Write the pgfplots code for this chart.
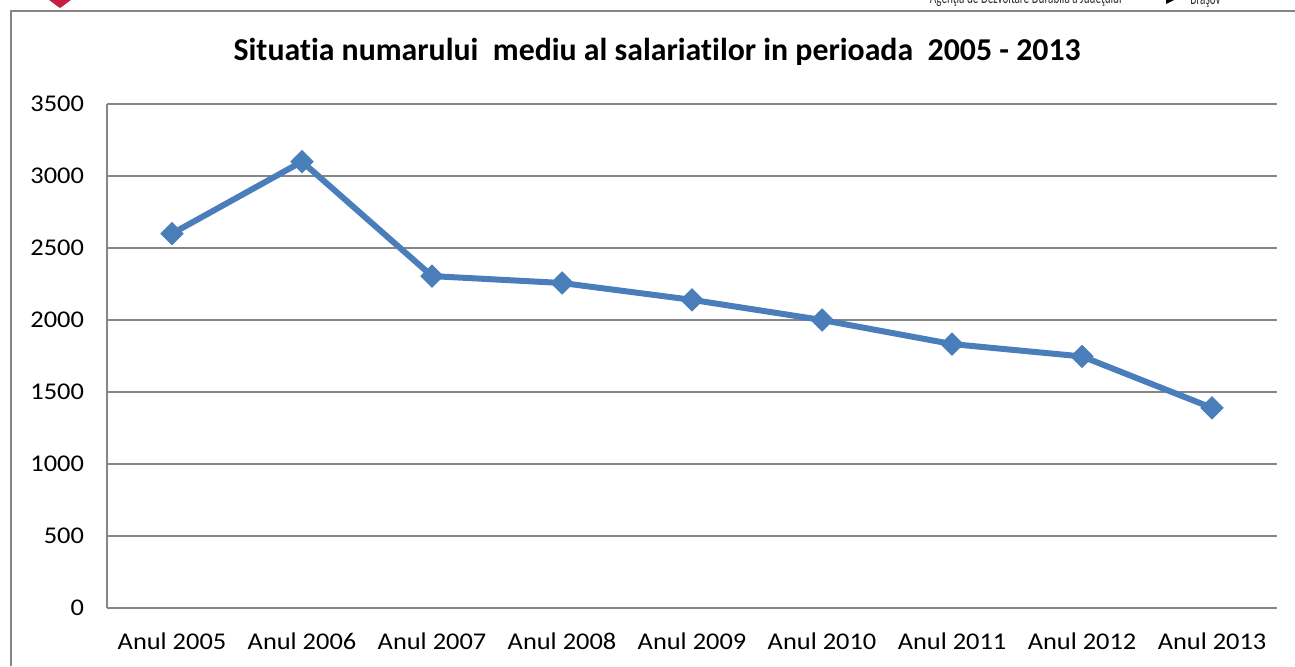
\documentclass[border=0pt]{standalone}
\usepackage{pgfplots}
\pgfplotsset{compat=1.18}
\usepackage{fontspec}
\setmainfont{Carlito}[Ligatures=NoCommon]
\newfontfamily\tickfont{Carlito}[FakeStretch=1.1, Ligatures=NoCommon]
\newfontfamily\headfont{Carlito}[FakeStretch=0.62]
\definecolor{lineblue}{RGB}{74,126,187}
\definecolor{framegray}{RGB}{134,134,134}
\definecolor{logored}{RGB}{200,30,70}
\begin{document}
\begin{tikzpicture}
\begin{scope}[x=0.5bp,y=-0.5bp]
\useasboundingbox (0,0) rectangle (1295,666);
\fill[logored] (44,-4) -- (76,-4) -- (63,6) -- (60,8) -- (57,6) -- cycle;
\node[font=\headfont\fontsize{9bp}{10bp}\selectfont, anchor=base east, inner sep=0pt, text=black!80] at (1122,4) {Agenţia de Dezvoltare Durabilă a Judeţului};
\fill[black] (1166,-6) -- (1178,-2) -- (1166,4) -- cycle;
\node[font=\headfont\fontsize{9bp}{10bp}\selectfont, anchor=base west, inner sep=0pt, text=black!80] at (1190,5) {Braşov};
\draw[framegray, line width=1.1bp] (11,666) -- (11,11) -- (1295,11);
\node[font=\bfseries\fontsize{15.9bp}{19bp}\selectfont, anchor=base, inner sep=0pt] at (657,61) {Situatia numarului\ \ mediu al salariatilor in perioada\ \ 2005 - 2013};
\end{scope}
\begin{axis}[
  at={(53.5bp,-304bp)}, anchor=south west,
  scale only axis, width=585bp, height=252bp,
  xmin=-0.5, xmax=8.5, ymin=0, ymax=3500,
  ytick={0,500,...,3500},
  xtick={0,...,8},
  xticklabels={Anul 2005,Anul 2006,Anul 2007,Anul 2008,Anul 2009,Anul 2010,Anul 2011,Anul 2012,Anul 2013},
  ymajorgrids,
  grid style={framegray, line width=0.6bp},
  axis line style={framegray, line width=0.6bp},
  axis x line*=bottom, axis y line*=left,
  major tick length=0pt,
  tick label style={font=\tickfont\fontsize{12bp}{14bp}\selectfont, text=black},
  /pgf/number format/assume math mode=true,
  /pgf/number format/1000 sep={},
  yticklabel style={xshift=-8bp},
  xticklabel style={yshift=-9bp},
]
\addplot[lineblue, line width=3bp, mark=square*, mark size=3.9bp, mark options={fill=lineblue, line width=0.5bp, rotate=45}] coordinates {
(0,2600) (1,3100) (2,2305) (3,2257) (4,2140) (5,2000) (6,1833) (7,1747) (8,1390)
};
\end{axis}
\end{tikzpicture}
\end{document}
